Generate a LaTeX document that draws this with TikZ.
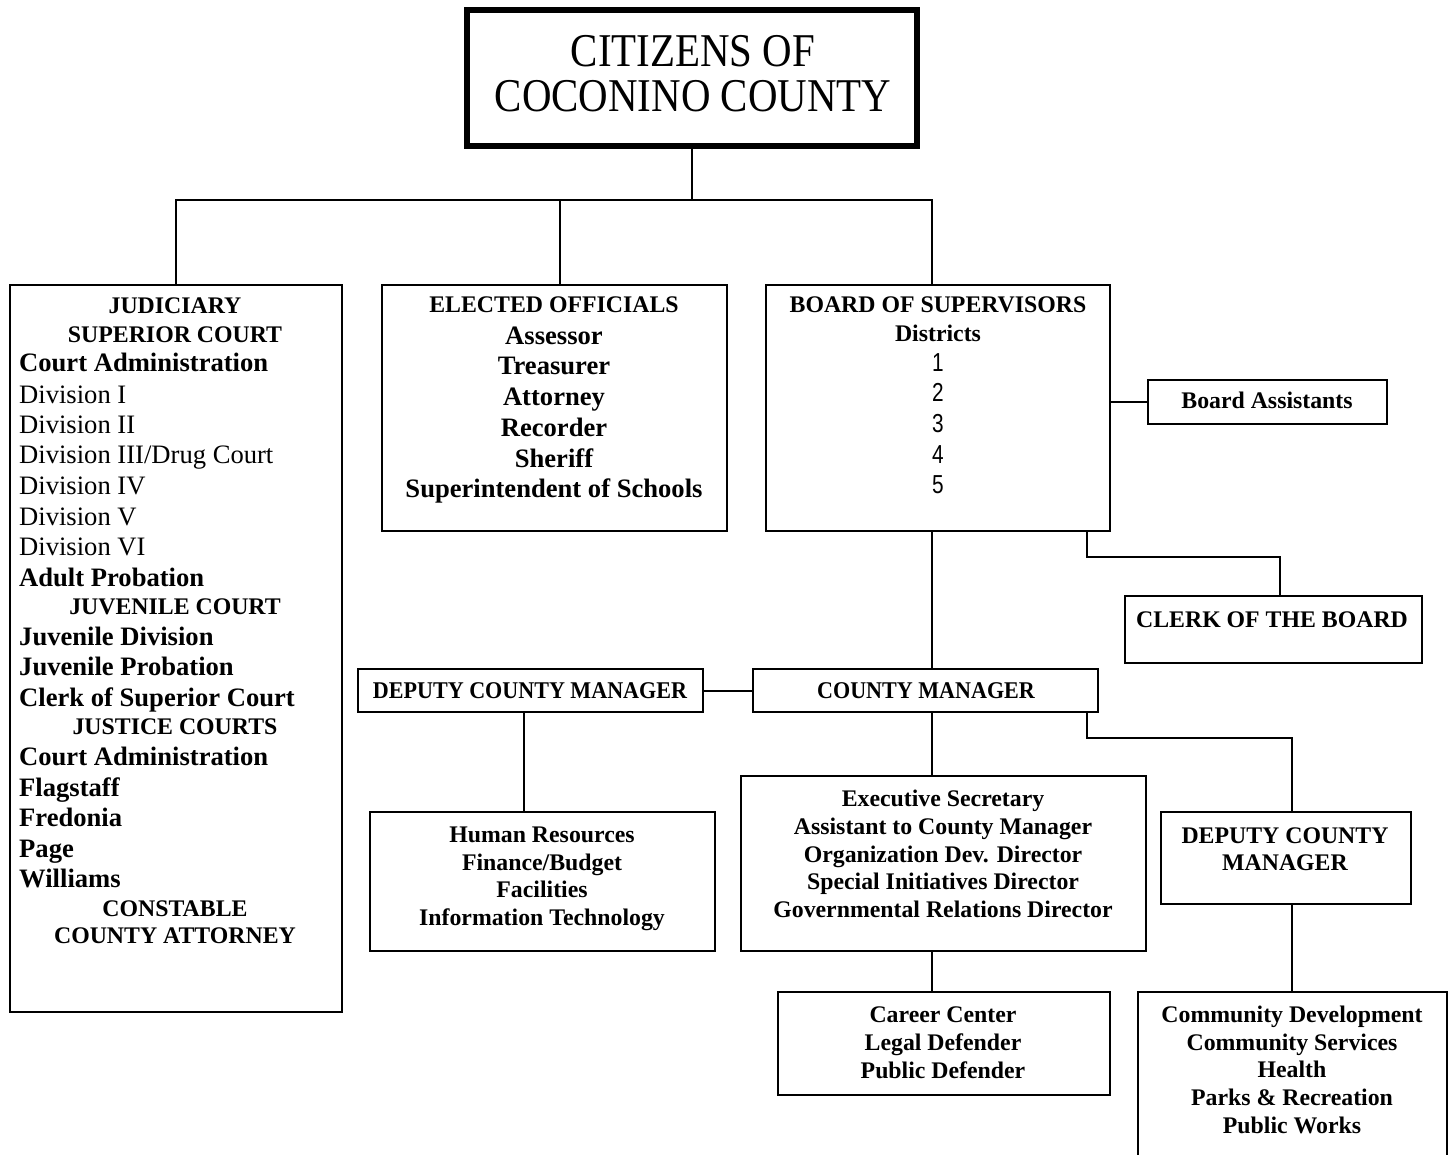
\documentclass[tikz,border=0pt]{standalone}
\usepackage{fontspec}
\setmainfont{Liberation Serif}
\newfontfamily\titlefont[FakeStretch=0.87]{Liberation Serif}
\newfontfamily\condserif[FakeStretch=0.92]{Liberation Serif}
\newfontfamily\digitfont[FakeStretch=0.8]{Liberation Sans}
\tikzset{
 box/.style={draw, rectangle, line width=2.8pt, inner sep=0pt, outer sep=0pt},
 conn/.style={draw, line width=2pt},
 hd/.style={anchor=base, inner sep=0pt, font=\fontsize{23.8}{28}\selectfont\bfseries},
 itb/.style={anchor=base west, inner sep=0pt, font=\fontsize{26.6}{30}\selectfont\bfseries},
 itr/.style={anchor=base west, inner sep=0pt, font=\fontsize{26.6}{30}\selectfont},
 itc/.style={anchor=base, inner sep=0pt, font=\fontsize{26.6}{30}\selectfont\bfseries},
 cond/.style={anchor=base, inner sep=0pt, font=\fontsize{24}{28}\selectfont\condserif\bfseries},
 dig/.style={anchor=base, inner sep=0pt, font=\fontsize{26}{30}\selectfont\digitfont},
 ttl/.style={anchor=base, inner sep=0pt, font=\fontsize{47}{50}\selectfont\titlefont},
}
\newcommand\boxnode[5]{\node[box, minimum width={#4-#2}, minimum height={#5-#3}] (#1) at ({(#2+#4)/2},{(#3+#5)/2}) {};}
\begin{document}
\begin{tikzpicture}[x=1pt,y=-1pt]
\useasboundingbox (0,0) rectangle (1454,1155);
% boxes
\node[box, line width=5.5pt, minimum width=450, minimum height=136] (title) at (692,78) {};
\boxnode{jud}{10}{285}{342}{1012}
\boxnode{elect}{382}{285}{727}{531}
\boxnode{board}{766}{285}{1110}{531}
\boxnode{asst}{1148}{380}{1387}{424}
\boxnode{clerk}{1125}{596}{1422}{663}
\boxnode{dcm}{358}{669}{703}{712}
\boxnode{cm}{753}{669}{1098}{712}
\boxnode{hr}{370}{812}{715}{951}
\boxnode{exec}{741}{776}{1146}{951}
\boxnode{dcmr}{1161}{812}{1411}{904}
\boxnode{career}{778}{992}{1110}{1095}
\boxnode{comm}{1138}{992}{1447}{1175}
% connector coordinates
\coordinate (busL) at (176,200);
\coordinate (busM) at (560,200);
\coordinate (busR) at (932,200);
\coordinate (ck1) at (1087,557);
\coordinate (ck2) at (1280,557);
\coordinate (r1) at (1087,738);
\coordinate (r2) at (1292,738);
\coordinate (lx) at (524,0);
% connectors
\draw[conn] (title.south) -- (title.south |- busL);
\draw[conn] (jud.north -| busL) -- (busL) -- (busR) -- (board.north -| busR);
\draw[conn] (busM) -- (elect.north -| busM);
\draw[conn] (board.east |- asst.west) -- (asst.west);
\draw[conn] (board.south -| ck1) -- (ck1) -- (ck2) -- (clerk.north -| ck2);
\draw[conn] (board.south -| busR) -- (cm.north -| busR);
\draw[conn] (dcm.east) -- (cm.west);
\draw[conn] (dcm.south -| lx) -- (hr.north -| lx);
\draw[conn] (cm.south -| busR) -- (exec.north -| busR);
\draw[conn] (cm.south -| r1) -- (r1) -- (r2) -- (dcmr.north -| r2);
\draw[conn] (exec.south -| busR) -- (career.north -| busR);
\draw[conn] (dcmr.south -| r2) -- (comm.north -| r2);
% title text
\node[ttl] (t1) at (693,67) {CITIZENS OF};
\node[ttl] (t2) at (693,112) {COCONINO COUNTY};
% judiciary
\node[hd] (j1) at (175,314) {JUDICIARY};
\node[hd] (j2) at (175,343) {SUPERIOR COURT};
\node[itb] (j3) at (19,372) {Court Administration};
\node[itr] (j4) at (19,403) {Division I};
\node[itr] (j5) at (19,433) {Division II};
\node[itr] (j6) at (19,464) {Division III/Drug Court};
\node[itr] (j7) at (19,494) {Division IV};
\node[itr] (j8) at (19,525) {Division V};
\node[itr] (j9) at (19,555) {Division VI};
\node[itb] (j10) at (19,586) {Adult Probation};
\node[hd] (j11) at (175,614) {JUVENILE COURT};
\node[itb] (j12) at (19,645) {Juvenile Division};
\node[itb] (j13) at (19,675) {Juvenile Probation};
\node[itb] (j14) at (19,706) {Clerk of Superior Court};
\node[hd] (j15) at (175,734) {JUSTICE COURTS};
\node[itb] (j16) at (19,765) {Court Administration};
\node[itb] (j17) at (19,796) {Flagstaff};
\node[itb] (j18) at (19,826) {Fredonia};
\node[itb] (j19) at (19,857) {Page};
\node[itb] (j20) at (19,887) {Williams};
\node[hd] (j21) at (175,916) {CONSTABLE};
\node[hd] (j22) at (175,943) {COUNTY ATTORNEY};
% elected officials
\node[hd] (e1) at (554,313) {ELECTED OFFICIALS};
\node[itc] (e2) at (554,345) {Assessor};
\node[itc] (e3) at (554,375) {Treasurer};
\node[itc] (e4) at (554,406) {Attorney};
\node[itc] (e5) at (554,436) {Recorder};
\node[itc] (e6) at (554,467) {Sheriff};
\node[itc] (e7) at (554,497) {Superintendent of Schools};
% board
\node[hd] (b1) at (938,313) {BOARD OF SUPERVISORS};
\node[hd] (b2) at (938,342) {Districts};
\node[dig] (b3) at (938,372) {1};
\node[dig] (b4) at (938,402) {2};
\node[dig] (b5) at (938,432) {3};
\node[dig] (b6) at (938,463) {4};
\node[dig] (b7) at (938,493) {5};
% small boxes
\node[hd] (a1) at (1267,409) {Board Assistants};
\node[hd] (c1) at (1272,627) {CLERK OF THE BOARD};
\node[cond] (d1) at (530,698) {DEPUTY COUNTY MANAGER};
\node[cond] (m1) at (926,698) {COUNTY MANAGER};
% HR
\node[hd] (h1) at (542,842) {Human Resources};
\node[hd] (h2) at (542,870) {Finance/Budget};
\node[hd] (h3) at (542,897) {Facilities};
\node[hd] (h4) at (542,925) {Information Technology};
% exec
\node[hd] (x1) at (943,806) {Executive Secretary};
\node[hd] (x2) at (943,834) {Assistant to County Manager};
\node[hd] (x3) at (943,862) {Organization Dev. Director};
\node[hd] (x4) at (943,889) {Special Initiatives Director};
\node[hd] (x5) at (943,917) {Governmental Relations Director};
% right deputy
\node[hd] (r1t) at (1285,843) {DEPUTY COUNTY};
\node[hd] (r2t) at (1285,870) {MANAGER};
% career
\node[hd] (k1) at (943,1022) {Career Center};
\node[hd] (k2) at (943,1050) {Legal Defender};
\node[hd] (k3) at (943,1078) {Public Defender};
% community
\node[hd] (o1) at (1292,1022) {Community Development};
\node[hd] (o2) at (1292,1050) {Community Services};
\node[hd] (o3) at (1292,1077) {Health};
\node[hd] (o4) at (1292,1105) {Parks \& Recreation};
\node[hd] (o5) at (1292,1133) {Public Works};
\end{tikzpicture}
\end{document}
